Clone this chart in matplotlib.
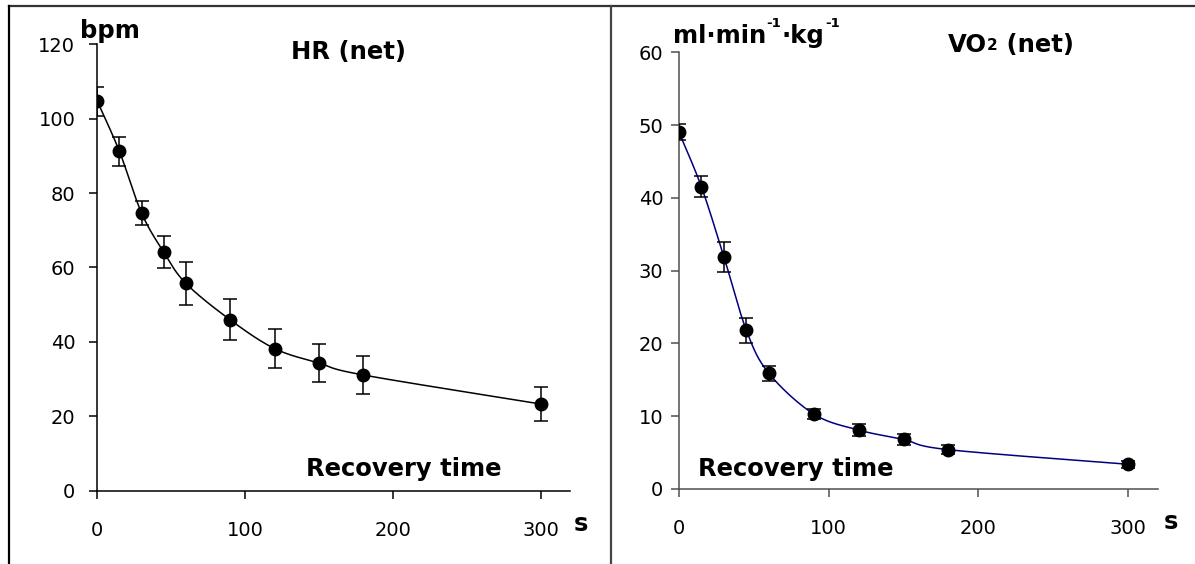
import matplotlib
matplotlib.use('Agg')

import matplotlib.pyplot as plt
import numpy as np
from matplotlib.lines import Line2D

# recovery time points (s)
time_s = [0, 15, 30, 45, 60, 90, 120, 150, 180, 300]

# heart rate (net), bpm
hr_mean = [104.7, 91.2, 74.6, 64.1, 55.7, 45.9, 38.2, 34.3, 31.1, 23.3]
hr_err = [3.9, 4.0, 3.3, 4.3, 5.7, 5.5, 5.2, 5.2, 5.0, 4.6]

# VO2 (net), ml/min/kg
vo2_mean = [49.0, 41.5, 31.9, 21.8, 15.9, 10.3, 8.1, 6.8, 5.4, 3.4]
vo2_err = [1.1, 1.45, 2.1, 1.7, 1.0, 0.75, 0.8, 0.8, 0.6, 0.5]

hr_ticks = [0, 20, 40, 60, 80, 100, 120]
vo2_ticks = [0, 10, 20, 30, 40, 50, 60]
x_ticks = [0, 100, 200, 300]


def smooth_line(x, y, n=30):
    # excel-like smoothed line (catmull-rom through the points)
    p = np.column_stack([x, y]).astype(float)
    p = np.vstack([p[0], p, p[-1]])
    out = []
    t = np.linspace(0, 1, n)[:, None]
    for i in range(1, len(p) - 2):
        p0, p1, p2, p3 = p[i - 1], p[i], p[i + 1], p[i + 2]
        c1 = p1 + (p2 - p0) / 6
        c2 = p2 - (p3 - p1) / 6
        seg = ((1 - t) ** 3) * p1 + 3 * ((1 - t) ** 2) * t * c1 + 3 * (1 - t) * t ** 2 * c2 + t ** 3 * p2
        out.append(seg)
    out = np.vstack(out)
    return out[:, 0], out[:, 1]


plt.rcParams['font.family'] = ['DejaVu Sans']
fig = plt.figure(figsize=(11.95, 5.64), dpi=100)

ax1 = fig.add_axes([0.0814, 0.1300, 0.3958, 0.7915])
ax2 = fig.add_axes([0.5682, 0.1330, 0.4008, 0.7743])

# HR panel
sx, sy = smooth_line(time_s, hr_mean)
ax1.plot(sx, sy, color='black', lw=1.1, zorder=2)
ax1.errorbar(time_s, hr_mean, yerr=hr_err, fmt='o', color='black', ms=9,
             capsize=5, elinewidth=1.1, capthick=1.1, zorder=3)
ax1.set_ylim(0, 120)
ax1.set_yticks(hr_ticks)

# VO2 panel
sx, sy = smooth_line(time_s, vo2_mean)
ax2.plot(sx, sy, color='#000080', lw=1.1, zorder=2)
ax2.errorbar(time_s, vo2_mean, yerr=vo2_err, fmt='o', color='black', ms=9,
             capsize=5, elinewidth=1.1, capthick=1.1, zorder=3)
ax2.set_ylim(0, 60)
ax2.set_yticks(vo2_ticks)

for ax, col, ypad in [(ax1, 'black', 10), (ax2, '#505050', 5.5)]:
    ax.set_xlim(0, 320)
    ax.set_xticks(x_ticks)
    for sp in ['top', 'right']:
        ax.spines[sp].set_visible(False)
    for sp in ['left', 'bottom']:
        ax.spines[sp].set_color(col)
        ax.spines[sp].set_linewidth(1.1)
        ax.spines[sp].set_clip_on(False)
    ax.tick_params(axis='both', direction='out', length=5.8, width=1.1, color=col,
                   labelsize=14, labelcolor='black')
    ax.tick_params(axis='y', pad=ypad)
    ax.tick_params(axis='x', pad=16)
    ax.patch.set_visible(False)

# panel borders
fig.add_artist(Line2D([9 / 1195, 1], [1 - 6 / 564, 1 - 6 / 564], transform=fig.transFigure,
                      color='#333333', lw=1.6))
fig.add_artist(Line2D([9 / 1195, 9 / 1195], [0, 1 - 6 / 564], transform=fig.transFigure,
                      color='black', lw=1.6))
fig.add_artist(Line2D([611 / 1195, 611 / 1195], [0, 1 - 6 / 564], transform=fig.transFigure,
                      color='#444444', lw=1.6))

bold = dict(fontweight='bold', fontsize=17.5, va='baseline', color='black')
sup = dict(fontweight='bold', fontsize=9.5, va='baseline', color='black',
           textcoords='offset points', annotation_clip=False)

# left panel texts
fig.text(0.0669, 0.933, 'bpm', **bold)
fig.text(0.2433, 0.8949, 'HR (net)', **bold)
fig.text(0.2558, 0.1555, 'Recovery time', **bold)
fig.text(0.4803, 0.0585, 's', **bold)

# right panel texts
t1 = fig.text(0.5632, 0.9243, 'ml·min', **bold)
t2 = ax2.annotate('-1', xy=(1, 0.9516), xycoords=(t1, 'figure fraction'),
                  xytext=(0.3, 0), **sup)
t3 = ax2.annotate('·kg', xy=(1, 0.9243), xycoords=(t2, 'figure fraction'),
                  xytext=(0.3, 0), textcoords='offset points',
                  annotation_clip=False, **bold)
ax2.annotate('-1', xy=(1, 0.9516), xycoords=(t3, 'figure fraction'),
             xytext=(0.3, 0), **sup)

v1 = fig.text(0.7931, 0.9073, 'VO', **bold)
v2 = ax2.annotate('2', xy=(1, 0.9108), xycoords=(v1, 'figure fraction'),
                  fontsize=11, fontweight='bold', va='baseline', annotation_clip=False)
ax2.annotate(' (net)', xy=(1, 0.9073), xycoords=(v2, 'figure fraction'),
             annotation_clip=False, **bold)

fig.text(0.5844, 0.1555, 'Recovery time', **bold)
fig.text(0.9735, 0.0615, 's', **bold)

fig.savefig('out.png', dpi=100)
